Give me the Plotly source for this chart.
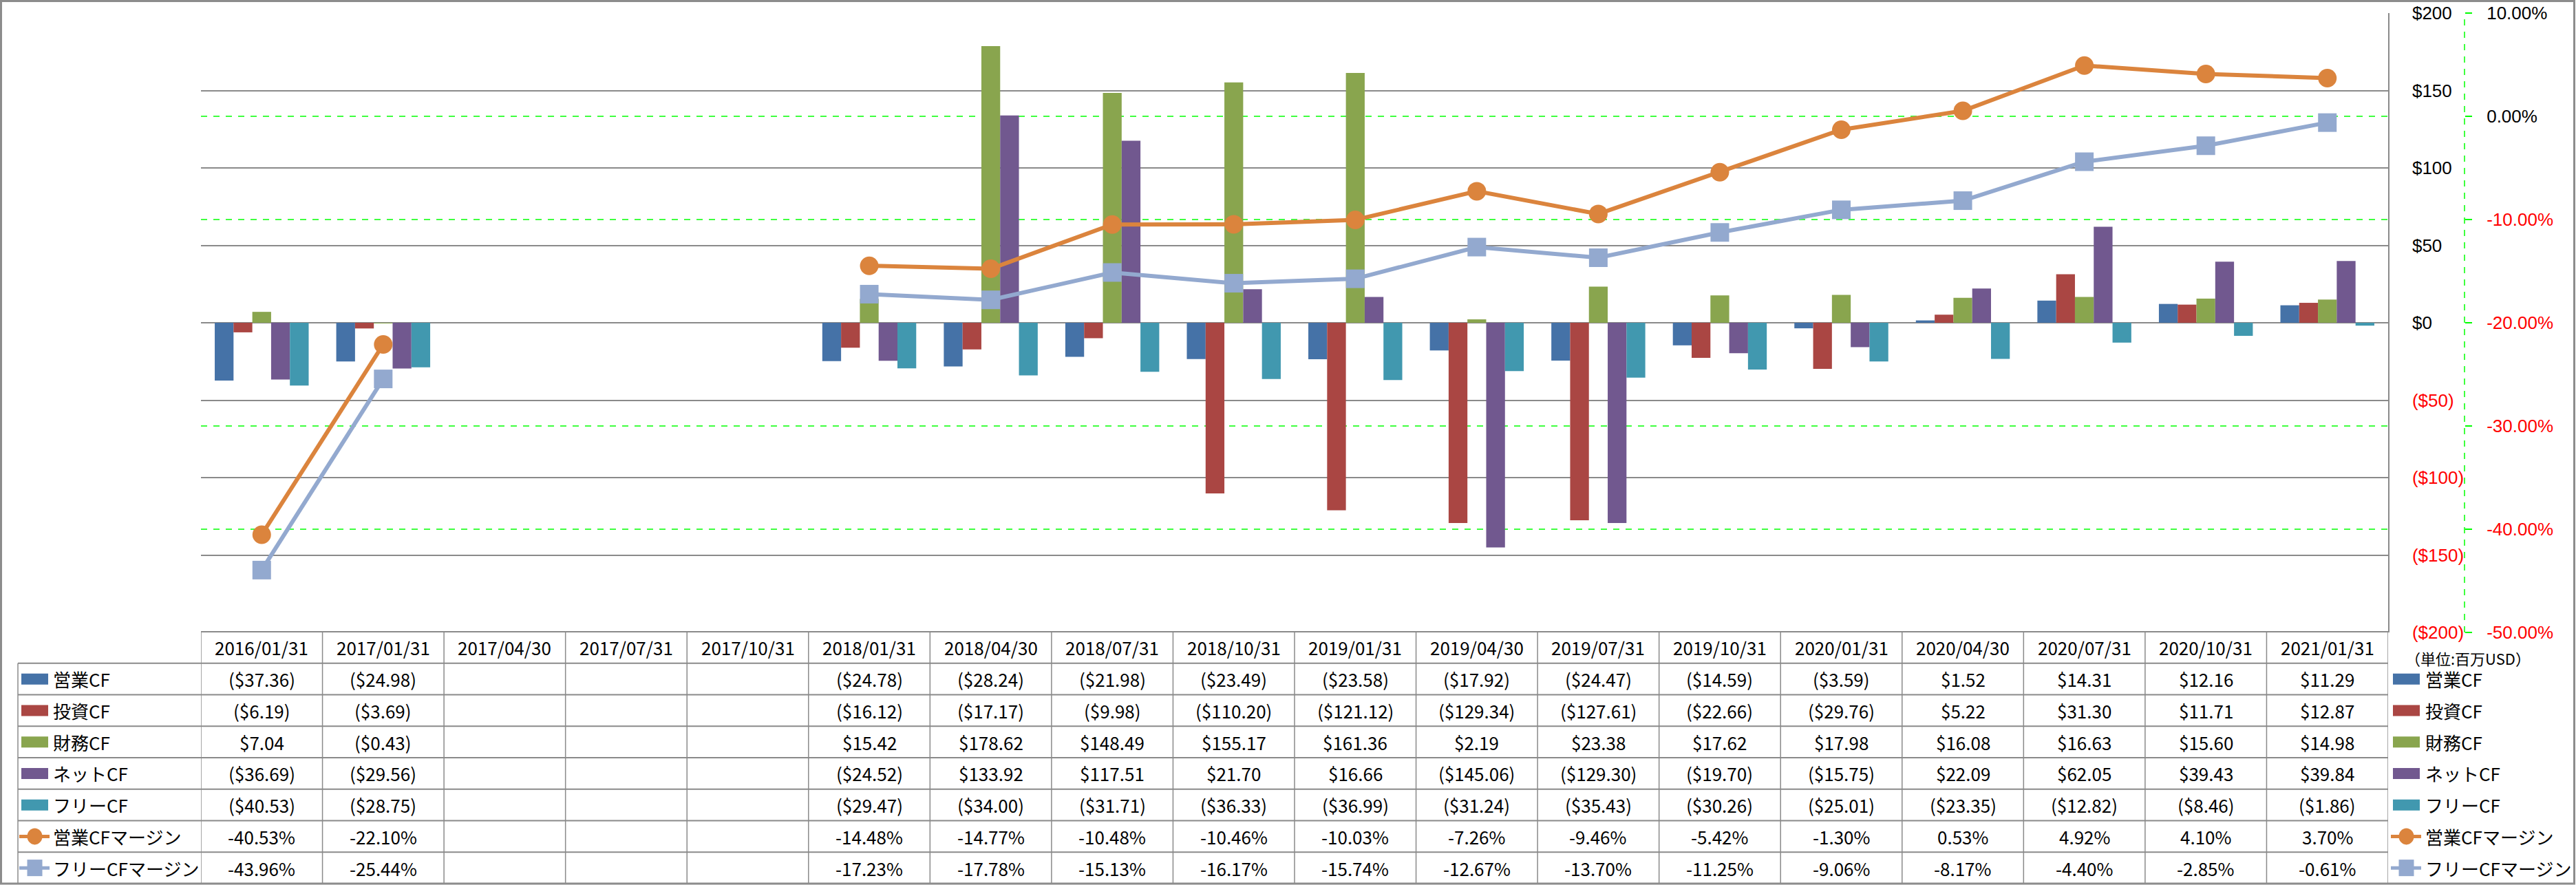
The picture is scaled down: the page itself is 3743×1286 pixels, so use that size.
import plotly.graph_objects as go

# ---------------- data ----------------
dates = ["2016/01/31", "2017/01/31", "2017/04/30", "2017/07/31", "2017/10/31",
         "2018/01/31", "2018/04/30", "2018/07/31", "2018/10/31", "2019/01/31",
         "2019/04/30", "2019/07/31", "2019/10/31", "2020/01/31", "2020/04/30",
         "2020/07/31", "2020/10/31", "2021/01/31"]

op_cf = [-37.36, -24.98, None, None, None, -24.78, -28.24, -21.98, -23.49, -23.58,
         -17.92, -24.47, -14.59, -3.59, 1.52, 14.31, 12.16, 11.29]
inv_cf = [-6.19, -3.69, None, None, None, -16.12, -17.17, -9.98, -110.20, -121.12,
          -129.34, -127.61, -22.66, -29.76, 5.22, 31.30, 11.71, 12.87]
fin_cf = [7.04, -0.43, None, None, None, 15.42, 178.62, 148.49, 155.17, 161.36,
          2.19, 23.38, 17.62, 17.98, 16.08, 16.63, 15.60, 14.98]
net_cf = [-36.69, -29.56, None, None, None, -24.52, 133.92, 117.51, 21.70, 16.66,
          -145.06, -129.30, -19.70, -15.75, 22.09, 62.05, 39.43, 39.84]
free_cf = [-40.53, -28.75, None, None, None, -29.47, -34.00, -31.71, -36.33, -36.99,
           -31.24, -35.43, -30.26, -25.01, -23.35, -12.82, -8.46, -1.86]
op_margin = [-40.53, -22.10, None, None, None, -14.48, -14.77, -10.48, -10.46, -10.03,
             -7.26, -9.46, -5.42, -1.30, 0.53, 4.92, 4.10, 3.70]
free_margin = [-43.96, -25.44, None, None, None, -17.23, -17.78, -15.13, -16.17, -15.74,
               -12.67, -13.70, -11.25, -9.06, -8.17, -4.40, -2.85, -0.61]

bar_names = ["営業CF", "投資CF", "財務CF", "ネットCF", "フリーCF"]
line_names = ["営業CFマージン", "フリーCFマージン"]
usd_ticks = [200, 150, 100, 50, 0, -50, -100, -150, -200]
pct_ticks = [10, 0, -10, -20, -30, -40, -50]
unit_label = "（単位:百万USD）"

# ---------------- styles ----------------
bar_colors = ["#4572A7", "#AA4643", "#89A54E", "#71588F", "#4198AF"]
line_colors = ["#DB843D", "#93A9CF"]
line_symbols = ["circle", "square"]
GRID = "#8A8A8A"
RED = "#FF0000"
LIME = "#00FF00"
JP = "Noto Sans CJK JP"
NUM = "Liberation Sans"

W, H = 3743, 1286
ML, MT, MB = 292, 19, 367
PW = W - ML            # paper width (right margin 0)
PH = H - MT - MB       # paper height = plot height
PLOT_R = 3470
SEC_AXIS_X = 3581
USD_RANGE = [-200, 200]
PCT_RANGE = [-50, 10]


def px(xp):
    return (xp - ML) / PW


def py(yp):
    return (MT + PH - yp) / PH


def fmt_usd(v):
    if v is None:
        return ""
    return f"(${abs(v):.2f})" if v < 0 else f"${v:.2f}"


def fmt_pct(v):
    if v is None:
        return ""
    return f"{v:.2f}%"


fig = go.Figure()

bar_series = [op_cf, inv_cf, fin_cf, net_cf, free_cf]
for name, vals, col in zip(bar_names, bar_series, bar_colors):
    fig.add_trace(go.Bar(x=dates, y=vals, name=name, marker=dict(color=col, line=dict(width=0)),
                         yaxis="y", showlegend=False))

line_series = [op_margin, free_margin]
for name, vals, col, sym in zip(line_names, line_series, line_colors, line_symbols):
    fig.add_trace(go.Scatter(x=dates, y=vals, name=name, mode="lines+markers",
                             line=dict(color=col, width=6),
                             marker=dict(color=col, size=27, symbol=sym, line=dict(width=0)),
                             connectgaps=False, yaxis="y2", showlegend=False, cliponaxis=False))


def usd_text(v):
    if v < 0:
        return f"<span style='color:{RED}'>(${abs(v)})</span>"
    return f"${v}"


def pct_text(v):
    s = f"{v:.2f}%"
    if v < 0:
        return f"<span style='color:{RED}'>{s}</span>"
    return s


x_dom_end = (PLOT_R - ML) / PW

fig.update_layout(
    width=W, height=H,
    margin=dict(l=ML, r=0, t=MT, b=MB, pad=0),
    paper_bgcolor="white", plot_bgcolor="white",
    barmode="group", bargap=0.227, bargroupgap=0,
    showlegend=False,
    font=dict(family=JP, size=26, color="black"),
    xaxis=dict(type="category", categoryorder="array", categoryarray=dates,
               domain=[0, x_dom_end], range=[-0.5, len(dates) - 0.5],
               showticklabels=False, showgrid=False, zeroline=False, showline=False,
               fixedrange=True),
    yaxis=dict(range=USD_RANGE, side="right", tickvals=usd_ticks,
               ticktext=[usd_text(v) for v in usd_ticks],
               tickfont=dict(family=NUM, size=26, color="black"),
               showgrid=True, gridcolor=GRID, gridwidth=1.5, zeroline=False,
               showline=True, linecolor=GRID, linewidth=1.5,
               ticks="", ticklabelstandoff=28, automargin=False),
    yaxis2=dict(range=PCT_RANGE, overlaying="y", side="right", anchor="free",
                position=px(SEC_AXIS_X), tickvals=pct_ticks,
                ticktext=[pct_text(v) for v in pct_ticks],
                tickfont=dict(family=NUM, size=26, color="black"),
                showgrid=False, zeroline=False, showline=False,
                ticks="outside", ticklen=10, tickcolor=LIME, tickwidth=1.5,
                ticklabelstandoff=16, automargin=False),
)

shapes = []
annotations = []

# secondary axis line (dashed green)
shapes.append(dict(type="line", xref="paper", yref="paper", x0=px(SEC_AXIS_X), x1=px(SEC_AXIS_X),
                   y0=0, y1=1, line=dict(color=LIME, width=1.5, dash="dash")))

# secondary gridlines (green dashed) where they do not coincide with the $ gridlines
for t in pct_ticks:
    usd_equiv = (t - PCT_RANGE[0]) / (PCT_RANGE[1] - PCT_RANGE[0]) * (USD_RANGE[1] - USD_RANGE[0]) + USD_RANGE[0]
    if any(abs(usd_equiv - u) < 1e-6 for u in usd_ticks):
        continue
    shapes.append(dict(type="line", xref="x domain", yref="y2", x0=0, x1=1, y0=t, y1=t,
                       layer="below", line=dict(color=LIME, width=1.5, dash="dash")))

# ---------------- data table ----------------
TABLE_TOP = 918
ROW_H = 45.75
LABEL_L = 26
n_rows = 8
row_lines = [TABLE_TOP + k * ROW_H for k in range(n_rows + 1)]

# horizontal lines
shapes.append(dict(type="line", xref="paper", yref="paper", x0=px(ML), x1=px(PLOT_R),
                   y0=py(row_lines[0]), y1=py(row_lines[0]), line=dict(color=GRID, width=2)))
for yl in row_lines[1:]:
    shapes.append(dict(type="line", xref="paper", yref="paper", x0=px(LABEL_L), x1=px(PLOT_R),
                       y0=py(yl), y1=py(yl), line=dict(color=GRID, width=2)))
# vertical lines at category boundaries
for k in range(len(dates) + 1):
    shapes.append(dict(type="line", xref="x", yref="paper", x0=k - 0.5, x1=k - 0.5,
                       y0=py(row_lines[0]), y1=py(row_lines[-1]), line=dict(color=GRID, width=1.5)))
shapes.append(dict(type="line", xref="paper", yref="paper", x0=px(LABEL_L), x1=px(LABEL_L),
                   y0=py(row_lines[1]), y1=py(row_lines[-1]), line=dict(color=GRID, width=1.5)))

# header
hy = (row_lines[0] + row_lines[1]) / 2
for d in dates:
    annotations.append(dict(x=d, xref="x", y=py(hy), yref="paper", text=d, showarrow=False,
                            xanchor="center", yanchor="middle", font=dict(family=JP, size=26)))

all_names = bar_names + line_names
all_series = bar_series + line_series
formatters = [fmt_usd] * 5 + [fmt_pct] * 2

for r, (name, vals, fmt) in enumerate(zip(all_names, all_series, formatters)):
    cy = (row_lines[r + 1] + row_lines[r + 2]) / 2
    for d, v in zip(dates, vals):
        t = fmt(v)
        if t:
            annotations.append(dict(x=d, xref="x", y=py(cy), yref="paper", text=t, showarrow=False,
                                    xanchor="center", yanchor="middle", font=dict(family=JP, size=26)))
    # left label + right legend
    for (icon_l, icon_r, text_x) in [(31, 70, 75), (3477, 3516, 3522)]:
        annotations.append(dict(x=px(text_x), xref="paper", y=py(cy), yref="paper", text=name,
                                showarrow=False, xanchor="left", yanchor="middle",
                                font=dict(family=JP, size=26)))
        if r < 5:
            col = bar_colors[r]
            shapes.append(dict(type="rect", xref="paper", yref="paper", x0=px(icon_l), x1=px(icon_r),
                               y0=py(cy + 8), y1=py(cy - 8), fillcolor=col, line=dict(width=0)))
        else:
            col = line_colors[r - 5]
            shapes.append(dict(type="line", xref="paper", yref="paper", x0=px(icon_l - 3), x1=px(icon_r + 2),
                               y0=py(cy), y1=py(cy), line=dict(color=col, width=5)))
            cx = (icon_l + icon_r) / 2
            shp = "circle" if r == 5 else "rect"
            shapes.append(dict(type=shp, xref="paper", yref="paper", x0=px(cx - 11), x1=px(cx + 11),
                               y0=py(cy + 12), y1=py(cy - 12), fillcolor=col, line=dict(width=0)))

# unit label (below the ($200) / -50.00% tick labels, level with the table header)
annotations.append(dict(x=px(3493), xref="paper", y=py(938), yref="paper", text=unit_label,
                        showarrow=False, xanchor="left", yanchor="top", font=dict(family=JP, size=22)))

# outer border
shapes.append(dict(type="rect", xref="paper", yref="paper", x0=px(1.5), x1=px(W - 2.5),
                   y0=py(H - 2), y1=py(1.5), line=dict(color="#8C8C8C", width=3), fillcolor="rgba(0,0,0,0)"))

fig.update_layout(shapes=shapes, annotations=annotations)

fig.write_html("out.html", config={"displayModeBar": False},
               post_script="document.body.style.margin='0';")
